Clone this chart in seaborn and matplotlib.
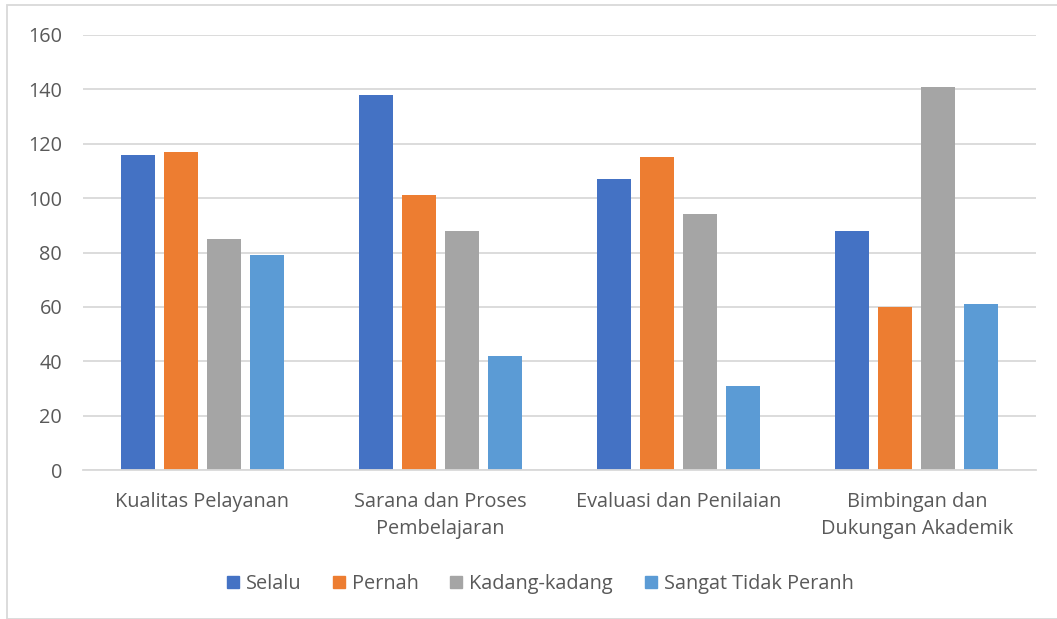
import matplotlib
matplotlib.use("Agg")
import matplotlib.pyplot as plt
import seaborn as sns
import pandas as pd
from matplotlib.patches import Rectangle

categories = ["Kualitas Pelayanan", "Sarana dan Proses\nPembelajaran",
              "Evaluasi dan Penilaian", "Bimbingan dan\nDukungan Akademik"]
series = ["Selalu", "Pernah", "Kadang-kadang", "Sangat Tidak Peranh"]
selalu = [116, 138, 107, 88]
pernah = [117, 101, 115, 60]
kadang = [85, 88, 94, 141]
sangat = [79, 42, 31, 61]
colors = ["#4472C4", "#ED7D31", "#A5A5A5", "#5B9BD5"]

rows = []
for s, vals in zip(series, [selalu, pernah, kadang, sangat]):
    for c, v in zip(categories, vals):
        rows.append({"cat": c, "series": s, "value": v})
df = pd.DataFrame(rows)

sns.set_theme(style="white")
plt.rcParams['font.family'] = ['Open Sans', 'DejaVu Sans']
text_color = "#595959"
fs = 14.3

fig = plt.figure(figsize=(10.57, 6.19), dpi=100)
ax = fig.add_axes([83/1057, 1-470/619, (1036-83)/1057, (470-35)/619])

sns.barplot(data=df, x="cat", y="value", hue="series", palette=colors,
            order=categories, hue_order=series, width=0.723, gap=0.21,
            ax=ax, saturation=1, legend=False, edgecolor="none")

ax.set_ylim(0, 160)
ax.set_xlim(-0.5, 3.5)
ax.set_yticks(range(0, 161, 20))
ax.yaxis.grid(True, color="#D9D9D9", linewidth=1.3)
ax.set_axisbelow(True)
for sp in ["top", "right", "left"]:
    ax.spines[sp].set_visible(False)
ax.spines["bottom"].set_color("#D9D9D9")
ax.spines["bottom"].set_linewidth(1.3)
ax.set_xlabel("")
ax.set_ylabel("")
ax.tick_params(axis="both", length=0, colors=text_color, labelsize=fs)
ax.tick_params(axis="y", pad=15)
ax.tick_params(axis="x", pad=16)
for lab in ax.get_xticklabels():
    lab.set_linespacing(1.45)

handles = [Rectangle((0, 0), 1, 1, color=c) for c in colors]
leg = fig.legend(handles, series, loc="center", bbox_to_anchor=(540/1057, 1-584/619),
                 ncol=4, frameon=False, fontsize=fs, handlelength=0.6,
                 handleheight=0.6, handletextpad=0.35, columnspacing=1.6)
for t in leg.get_texts():
    t.set_color(text_color)

fig.patches.append(Rectangle((7/1057, 0), 1.1, 1-5/619, transform=fig.transFigure,
                             fill=False, edgecolor="#D9D9D9", linewidth=1.3))

fig.savefig("out.png", dpi=100)
